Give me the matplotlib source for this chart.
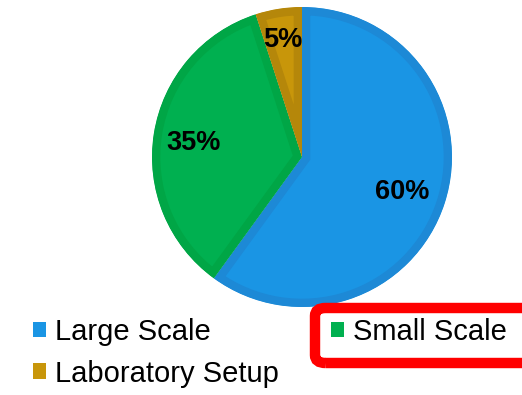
import matplotlib
matplotlib.use("Agg")
import numpy as np
import matplotlib.pyplot as plt
from matplotlib.patches import FancyBboxPatch, Patch

plt.rcParams['font.family'] = ['Liberation Sans', 'DejaVu Sans']

categories = ["Large Scale", "Small Scale", "Laboratory Setup"]
shares = [60, 35, 5]
fill_colors = ["#1a95e4", "#00b050", "#c8960a"]
edge_colors = ["#1d89d6", "#00a646", "#b5870a"]
label_dist = [0.70, 0.73, 0.81]

W, H = 522, 395
fig = plt.figure(figsize=(W / 100, H / 100), dpi=100)
cx, cy, r = 302, 157, 150
ax = fig.add_axes([(cx - r) / W, (H - cy - r) / H, 2 * r / W, 2 * r / H])

wedges, _ = ax.pie(shares, colors=fill_colors, startangle=90, counterclock=False,
                   radius=1.0)
ax.set_xlim(-1, 1)
ax.set_ylim(-1, 1)
ax.axis('off')

# darker inner border on each slice: a wide stroke clipped to the slice itself
for w, ec in zip(wedges, edge_colors):
    w.set_edgecolor(ec)
    w.set_linewidth(12)
    w.set_joinstyle('miter')
    w.set_clip_on(True)
    w.set_clip_path(w)

for w, val, d in zip(wedges, shares, label_dist):
    mid = np.deg2rad((w.theta1 + w.theta2) / 2)
    ax.text(d * np.cos(mid), d * np.sin(mid), f"{val}%", ha='center',
            va='center_baseline', fontsize=19.5, fontweight='bold', color='black')

# Legend: first column Large/Laboratory, second column Small
order = [0, 2, 1]
handles = [Patch(facecolor=fill_colors[i], edgecolor='none') for i in order]
labels = [categories[i] for i in order]
leg = fig.legend(handles, labels, ncol=2, loc='upper left',
                 bbox_to_anchor=(33 / W, 1 - 318 / H), frameon=False,
                 fontsize=21, handlelength=0.45, handleheight=0.45,
                 handletextpad=0.3, columnspacing=1.8, labelspacing=0.47,
                 borderpad=0, borderaxespad=0)

# Highlight box around the "Small Scale" entry
box = FancyBboxPatch((315 / W, (H - 363) / H), 230 / W, 55 / H,
                     boxstyle="round,pad=0,rounding_size=0.02",
                     transform=fig.transFigure, facecolor='none',
                     edgecolor='#ff0000', linewidth=7.5, zorder=5)
fig.patches.append(box)

fig.savefig("out.png", dpi=100)
